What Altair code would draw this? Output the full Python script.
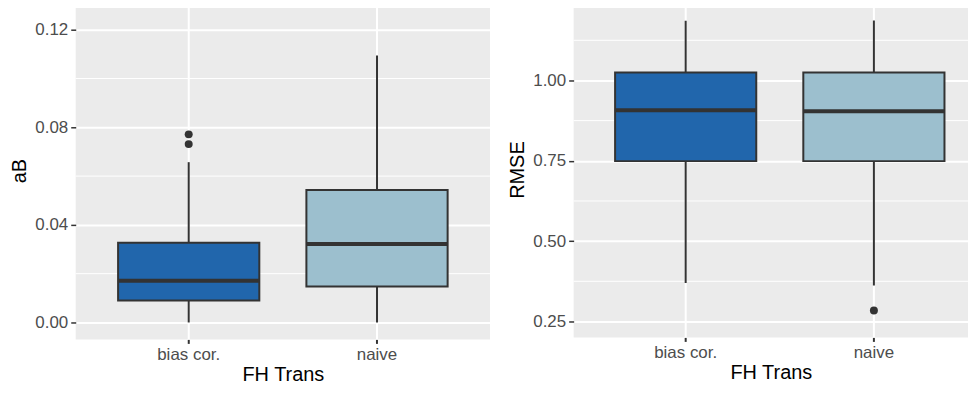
import altair as alt
import pandas as pd

categories = ["bias cor.", "naive"]
fill_colors = ["#2166ac", "#9cbfce"]

# aB panel (box statistics)
ab_lower = [0.0, 0.0]
ab_q1 = [0.0090, 0.0147]
ab_median = [0.0171, 0.0322]
ab_q3 = [0.0327, 0.0543]
ab_upper = [0.0657, 0.1094]
ab_outlier_cat = ["bias cor.", "bias cor."]
ab_outlier_val = [0.0771, 0.0731]
ab_ticks = [0.00, 0.04, 0.08, 0.12]
ab_minor = [0.02, 0.06, 0.10]

# RMSE panel
rmse_lower = [0.370, 0.362]
rmse_q1 = [0.749, 0.749]
rmse_median = [0.907, 0.904]
rmse_q3 = [1.025, 1.025]
rmse_upper = [1.186, 1.187]
rmse_outlier_cat = ["naive"]
rmse_outlier_val = [0.284]
rmse_ticks = [0.25, 0.50, 0.75, 1.00]
rmse_minor = [0.375, 0.625, 0.875, 1.125]

FONT = "Liberation Sans"
EDGE = "#333333"


def panel(ytitle, lower, q1, med, q3, upper, ocat, oval, ticks, minor,
          domain, width, height, xscale):
    box = pd.DataFrame({"cat": categories, "lower": lower, "q1": q1,
                        "median": med, "q3": q3, "upper": upper})
    out = pd.DataFrame({"cat": ocat, "v": oval})
    mn = pd.DataFrame({"v": minor})

    yscale = alt.Scale(domain=domain, nice=False, zero=False)
    yaxis = alt.Axis(title=ytitle, values=ticks, format=".2f",
                     labelFont=FONT, labelFontSize=17, labelColor="#4d4d4d",
                     labelPadding=3, tickSize=5, tickColor=EDGE, tickWidth=1.5,
                     titleFont=FONT, titleFontSize=20, titleColor="black",
                     titleFontWeight="normal", titlePadding=5,
                     grid=True, gridColor="white", gridWidth=2, domain=False)
    xaxis = alt.Axis(title="FH Trans", labelAngle=0,
                     labelFont=FONT, labelFontSize=17, labelColor="#4d4d4d",
                     labelPadding=3, tickSize=4, tickColor=EDGE, tickWidth=2,
                     titleFont=FONT, titleFontSize=20, titleColor="black",
                     titleFontWeight="normal", titlePadding=2,
                     grid=True, gridColor="white", gridWidth=2, domain=False,
                     bandPosition=0.5)
    x = alt.X("cat:N", title="FH Trans", scale=xscale, axis=xaxis, sort=categories)

    minor_layer = alt.Chart(mn).mark_rule(color="white", strokeWidth=1).encode(
        y=alt.Y("v:Q", scale=yscale, axis=yaxis, title=ytitle))
    whisk = alt.Chart(box).mark_rule(color=EDGE, strokeWidth=2).encode(
        x=x, y=alt.Y("lower:Q", scale=yscale, title=ytitle), y2="upper:Q")
    bars = alt.Chart(box).mark_bar(width=alt.RelativeBandSize(0.75),
                                   stroke=EDGE, strokeWidth=2).encode(
        x=x, y=alt.Y("q1:Q", scale=yscale, title=ytitle), y2="q3:Q",
        fill=alt.Fill("cat:N", scale=alt.Scale(domain=categories, range=fill_colors),
                      legend=None))
    meds = alt.Chart(box).mark_tick(color=EDGE, thickness=4, size=142, opacity=1).encode(
        x=x, y=alt.Y("median:Q", scale=yscale, title=ytitle))
    pts = alt.Chart(out).mark_circle(color=EDGE, size=64, opacity=1).encode(
        x=x, y=alt.Y("v:Q", scale=yscale, title=ytitle))
    return alt.layer(minor_layer, whisk, bars, meds, pts).properties(
        width=width, height=height)


left = panel("aB", ab_lower, ab_q1, ab_median, ab_q3, ab_upper,
             ab_outlier_cat, ab_outlier_val, ab_ticks, ab_minor,
             [-0.00694, 0.13143], 416, 339,
             alt.Scale(domain=categories, paddingInner=0, paddingOuter=0.1))
right = panel("RMSE", rmse_lower, rmse_q1, rmse_median, rmse_q3, rmse_upper,
              rmse_outlier_cat, rmse_outlier_val, rmse_ticks, rmse_minor,
              [0.2004, 1.2448], 396, 337,
              alt.Scale(domain=categories, paddingInner=0, paddingOuter=0.0476,
                        align=1))

chart = alt.hconcat(left, right, spacing=16).properties(
    padding={"left": 1, "top": -7, "right": 0, "bottom": 0},
    background="white"
).configure_view(fill="#ebebeb", stroke=None)

chart.save("out.html", embed_options={"renderer": "svg", "actions": False})
